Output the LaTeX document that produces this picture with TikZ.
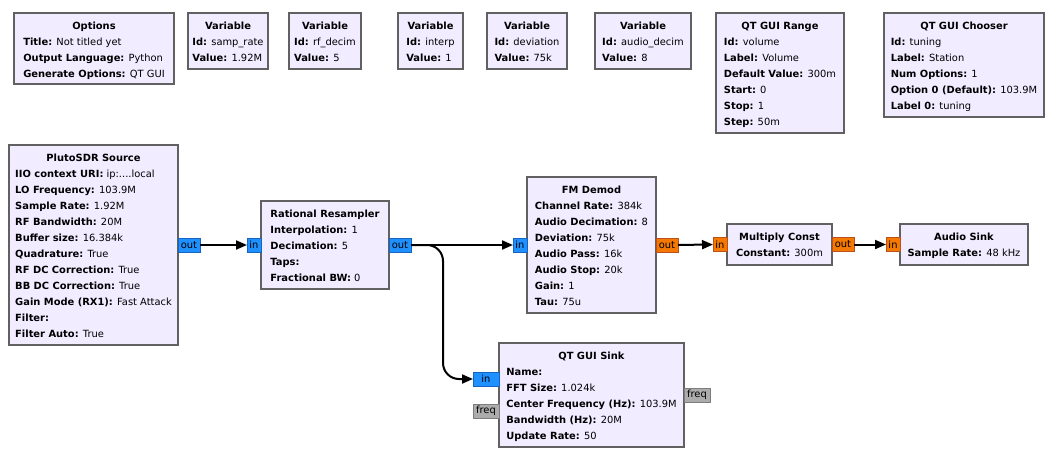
\documentclass[tikz,border=0pt]{standalone}
\usepackage{fontspec}
\setmainfont{DejaVu Sans}
\usetikzlibrary{positioning, arrows.meta}

\definecolor{blockfill}{RGB}{241,236,255}
\definecolor{blockline}{RGB}{97,97,97}
\definecolor{cplxfill}{RGB}{30,144,255}
\definecolor{cplxline}{RGB}{22,100,190}
\definecolor{fltfill}{RGB}{245,121,0}
\definecolor{fltline}{RGB}{185,80,30}
\definecolor{msgfill}{RGB}{172,172,172}
\definecolor{msgline}{RGB}{125,125,125}

\newcommand\grcfont{\fontsize{9.9}{16}\selectfont}

\tikzset{
  block/.style={draw=blockline, fill=blockfill, line width=2pt, anchor=north west, inner sep=0, outer sep=0},
  blocktext/.style={anchor=north, inner sep=0},
  port/.style={minimum height=14pt, inner sep=0, outer sep=0, line width=1pt},
  cplx/.style={port, draw=cplxline, fill=cplxfill},
  flt/.style={port, draw=fltline, fill=fltfill},
  msg/.style={port, draw=msgline, fill=msgfill},
  wire/.style={line width=2pt, -{Triangle[length=11pt,width=9pt]}},
}

% name, x1, y1, x2, y2, title, body
\newcommand\grcblock[7]{%
  \node[block, minimum width={#4-#2}, minimum height={#5-#3}] (#1) at (#2,#3) {};
  \node[blocktext] (#1-text) at ([yshift=-4.8]#1.north)
    {\begin{tabular}{@{}l@{}}\multicolumn{1}{@{}c@{}}{\textbf{#6}}\\#7\end{tabular}};
}

\begin{document}
\begin{tikzpicture}[x=1pt, y=-1pt, font=\grcfont]
  \useasboundingbox[fill=white] (0,0) rectangle (1063,466);

  % top row
  \grcblock{opt}{14}{13}{174}{84}{Options}{\textbf{Title:} Not titled yet\\\textbf{Output Language:} Python\\\textbf{Generate Options:} QT GUI}
  \grcblock{vsamp}{188}{13}{268}{69}{Variable}{\textbf{Id:} samp\_rate\\\textbf{Value:} 1.92M}
  \grcblock{vrf}{289}{13}{361}{69}{Variable}{\textbf{Id:} rf\_decim\\\textbf{Value:} 5}
  \grcblock{vinterp}{398}{13}{463}{69}{Variable}{\textbf{Id:} interp\\\textbf{Value:} 1}
  \grcblock{vdev}{487}{13}{567}{69}{Variable}{\textbf{Id:} deviation\\\textbf{Value:} 75k}
  \grcblock{vaudio}{595}{13}{691}{69}{Variable}{\textbf{Id:} audio\_decim\\\textbf{Value:} 8}
  \grcblock{range}{716}{13}{844}{133}{QT GUI Range}{\textbf{Id:} volume\\\textbf{Label:} Volume\\\textbf{Default Value:} 300m\\\textbf{Start:} 0\\\textbf{Stop:} 1\\\textbf{Step:} 50m}
  \grcblock{chooser}{884}{13}{1044}{117}{QT GUI Chooser}{\textbf{Id:} tuning\\\textbf{Label:} Station\\\textbf{Num Options:} 1\\\textbf{Option 0 (Default):} 103.9M\\\textbf{Label 0:} tuning}

  % flow
  \grcblock{pluto}{9}{145}{178}{345}{PlutoSDR Source}{\textbf{IIO context URI:} ip:....local\\\textbf{LO Frequency:} 103.9M\\\textbf{Sample Rate:} 1.92M\\\textbf{RF Bandwidth:} 20M\\\textbf{Buffer size:} 16.384k\\\textbf{Quadrature:} True\\\textbf{RF DC Correction:} True\\\textbf{BB DC Correction:} True\\\textbf{Gain Mode (RX1):} Fast Attack\\\textbf{Filter:}\\\textbf{Filter Auto:} True}
  \grcblock{resamp}{261}{201}{389}{289}{Rational Resampler}{\textbf{Interpolation:} 1\\\textbf{Decimation:} 5\\\textbf{Taps:}\\\textbf{Fractional BW:} 0}
  \grcblock{fm}{527}{177}{656}{313}{FM Demod}{\textbf{Channel Rate:} 384k\\\textbf{Audio Decimation:} 8\\\textbf{Deviation:} 75k\\\textbf{Audio Pass:} 16k\\\textbf{Audio Stop:} 20k\\\textbf{Gain:} 1\\\textbf{Tau:} 75u}
  \grcblock{mult}{727}{224}{832}{265}{Multiply Const}{\textbf{Constant:} 300m}
  \grcblock{asink}{900}{224}{1028}{265}{Audio Sink}{\textbf{Sample Rate:} 48 kHz}
  \grcblock{qsink}{499}{343}{684}{447}{QT GUI Sink}{\textbf{Name:}\\\textbf{FFT Size:} 1.024k\\\textbf{Center Frequency (Hz):} 103.9M\\\textbf{Bandwidth (Hz):} 20M\\\textbf{Update Rate:} 50}

  % ports
  \node[cplx, minimum width=22pt, anchor=west] (plutoout) at (pluto.east) {out};
  \node[cplx, minimum width=14pt, anchor=east] (resampin) at (resamp.west) {in};
  \node[cplx, minimum width=22pt, anchor=west] (resampout) at (resamp.east) {out};
  \node[cplx, minimum width=14pt, anchor=east] (fmin) at (fm.west) {in};
  \node[flt, minimum width=22pt, anchor=west] (fmout) at (fm.east) {out};
  \node[flt, minimum width=14pt, anchor=east] (multin) at (mult.west) {in};
  \node[flt, minimum width=22pt, anchor=west] (multout) at (mult.east) {out};
  \node[flt, minimum width=14pt, anchor=east] (asinkin) at (asink.west) {in};
  \node[cplx, minimum width=26pt, anchor=east] (qsinkin) at ([yshift=16]qsink.west) {in};
  \node[msg, minimum width=26pt, anchor=east] (qfreqin) at ([yshift=-16]qsink.west) {freq};
  \node[msg, minimum width=26pt, anchor=west] (qfreqout) at (qsink.east) {freq};

  % connections
  \draw[wire] (plutoout) -- (resampin);
  \draw[wire] (resampout) -- (fmin);
  \draw[wire, rounded corners=16pt] (resampout.east) -| ([xshift=-30]qsinkin.west) -- (qsinkin.west);
  \draw[wire] (fmout) -- (multin);
  \draw[wire] (multout) -- (asinkin);
\end{tikzpicture}
\end{document}
